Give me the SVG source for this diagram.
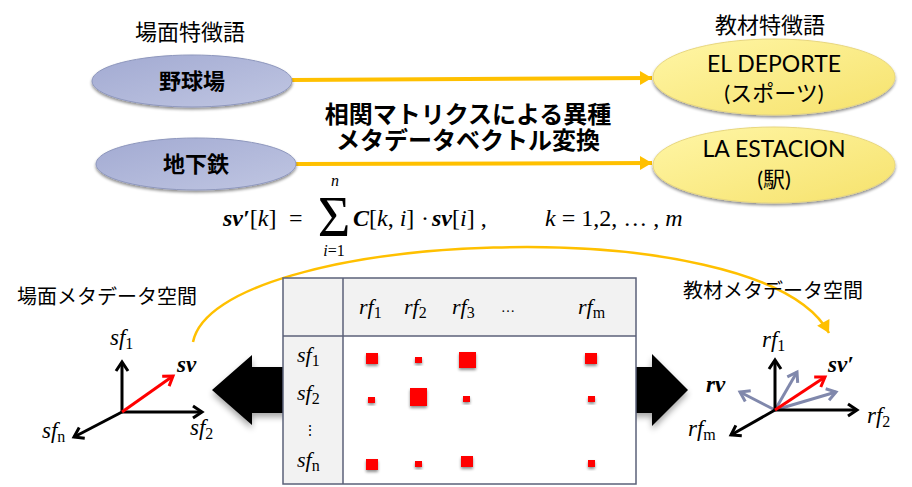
<svg xmlns="http://www.w3.org/2000/svg" width="912" height="487" viewBox="0 0 912 487">
<style>
.jp{font-family:"Noto Sans CJK JP","Noto Sans",sans-serif;fill:#000}
.lat{font-family:"Lato","Noto Sans CJK JP",sans-serif;fill:#000}
.m{font-family:"Liberation Serif","DejaVu Serif",serif;font-style:italic;fill:#000}
.up{font-style:normal}
.b{font-weight:bold}
.ax{stroke:#000;stroke-width:3;fill:none}
.sq{fill:#ff0000;filter:url(#sh)}
.conn{stroke:#ffc000;stroke-width:4;fill:none}
</style>
<defs>
<linearGradient id="gBlue" x1="0" y1="0" x2="1" y2="1">
<stop offset="0" stop-color="#a2aad2"/><stop offset="1" stop-color="#c0c6e2"/>
</linearGradient>
<linearGradient id="gYel" x1="0" y1="0" x2="1" y2="1">
<stop offset="0" stop-color="#fff6a6"/><stop offset="1" stop-color="#f6e26c"/>
</linearGradient>
<filter id="sh" x="-30%" y="-30%" width="160%" height="180%">
<feGaussianBlur in="SourceAlpha" stdDeviation="1.5"/><feOffset dx="0" dy="2" result="o"/>
<feComponentTransfer><feFuncA type="linear" slope="0.45"/></feComponentTransfer>
<feMerge><feMergeNode/><feMergeNode in="SourceGraphic"/></feMerge>
</filter>
<filter id="sh2" x="-20%" y="-20%" width="140%" height="150%">
<feGaussianBlur in="SourceAlpha" stdDeviation="3"/><feOffset dx="0" dy="4" result="o"/>
<feComponentTransfer><feFuncA type="linear" slope="0.35"/></feComponentTransfer>
<feMerge><feMergeNode/><feMergeNode in="SourceGraphic"/></feMerge>
</filter>
<marker id="hOr" markerUnits="userSpaceOnUse" markerWidth="16" markerHeight="16" viewBox="-13 -8 16 16" refX="0" refY="0" orient="auto">
<path d="M-12,-7 L0,0 L-12,7 Z" fill="#ffc000"/>
</marker>
<marker id="hK" markerUnits="userSpaceOnUse" markerWidth="16" markerHeight="16" viewBox="-12 -8 16 16" refX="0" refY="0" orient="auto">
<path d="M-9,-6 L0,0 L-9,6" fill="none" stroke="#000" stroke-width="3"/>
</marker>
<marker id="hR" markerUnits="userSpaceOnUse" markerWidth="16" markerHeight="16" viewBox="-12 -8 16 16" refX="0" refY="0" orient="auto">
<path d="M-9,-6 L0,0 L-9,6" fill="none" stroke="#ff0000" stroke-width="3"/>
</marker>
<marker id="hG" markerUnits="userSpaceOnUse" markerWidth="16" markerHeight="16" viewBox="-12 -8 16 16" refX="0" refY="0" orient="auto">
<path d="M-9,-6 L0,0 L-9,6" fill="none" stroke="#8088ac" stroke-width="3"/>
</marker>
</defs>

<rect width="912" height="487" fill="#fff"/>

<!-- labels -->
<text class="jp" x="190" y="40" font-size="22" text-anchor="middle">場面特徴語</text>
<text class="jp" x="770" y="33" font-size="22" text-anchor="middle">教材特徴語</text>

<!-- connectors -->
<g id="connectors">
<line class="conn" x1="292" y1="80" x2="652" y2="78" marker-end="url(#hOr)"/>
<line class="conn" x1="296" y1="164" x2="652" y2="163" marker-end="url(#hOr)"/>
<path d="M193,342 C215,230 760,205 829,333" stroke="#ffc000" stroke-width="2.5" fill="none" marker-end="url(#hOr)"/>
</g>

<g id="node-yakyujo">
<ellipse cx="192" cy="81" rx="100" ry="26" fill="url(#gBlue)" stroke="#8e97bd" stroke-width="1" filter="url(#sh)"/>
<text class="jp b" x="192" y="89" font-size="22" text-anchor="middle">野球場</text>
</g>
<g id="node-chikatetsu">
<ellipse cx="196" cy="164" rx="100" ry="26" fill="url(#gBlue)" stroke="#8e97bd" stroke-width="1" filter="url(#sh)"/>
<text class="jp b" x="196" y="172" font-size="22" text-anchor="middle">地下鉄</text>
</g>
<g id="node-deporte">
<ellipse cx="774" cy="77" rx="121" ry="38" fill="url(#gYel)" stroke="#e8d77e" stroke-width="1" filter="url(#sh)"/>
<text class="lat" x="774" y="72" font-size="23" text-anchor="middle">EL DEPORTE</text>
<text class="lat" x="774" y="101" font-size="22" text-anchor="middle">(スポーツ)</text>
</g>
<g id="node-estacion">
<ellipse cx="774" cy="165" rx="121" ry="38" fill="url(#gYel)" stroke="#e8d77e" stroke-width="1" filter="url(#sh)"/>
<text class="lat" x="774" y="157" font-size="23" text-anchor="middle">LA ESTACION</text>
<text class="lat" x="774" y="187" font-size="22" text-anchor="middle">(駅)</text>
</g>

<g id="title">
<text class="jp b" x="468" y="123" font-size="24" text-anchor="middle">相関マトリクスによる異種</text>
<text class="jp b" x="468" y="149" font-size="24" text-anchor="middle">メタデータベクトル変換</text>
</g>

<g id="formula" font-size="24">
<text class="m" x="223" y="226"><tspan class="b">sv′</tspan><tspan class="up">[</tspan>k<tspan class="up">]</tspan></text>
<text class="m up" x="289" y="226">=</text>
<text class="m up" x="334" y="236" font-size="56" text-anchor="middle">Σ</text>
<text class="m" x="335" y="186" font-size="16" text-anchor="middle">n</text>
<text class="m" x="334" y="256" font-size="16" text-anchor="middle">i<tspan class="up">=1</tspan></text>
<text class="m" x="353" y="226"><tspan class="b">C</tspan><tspan class="up">[</tspan>k<tspan class="up">, </tspan>i<tspan class="up">]</tspan></text>
<text class="m up" x="421" y="226">·</text>
<text class="m" x="432" y="226"><tspan class="b">sv</tspan><tspan class="up">[</tspan>i<tspan class="up">] ,</tspan></text>
<text class="m" x="545" y="226">k <tspan class="up">= 1,2, … , </tspan>m</text>
</g>

<!-- big black arrows (behind table) -->
<g id="big-arrows" filter="url(#sh2)">
<path d="M212,390 L252,355 L252,367 L300,367 L300,413 L252,413 L252,425 Z" fill="#000"/>
<path d="M688,390 L652,354 L652,367 L620,367 L620,413 L652,413 L652,426 Z" fill="#000"/>
</g>

<g id="table">
<rect x="283" y="278" width="353" height="206" fill="#fff"/>
<rect x="283" y="278" width="353" height="58" fill="#f2f2f2"/>
<rect x="283" y="336" width="60" height="148" fill="#f2f2f2"/>
<rect x="283" y="278" width="353" height="206" fill="none" stroke="#5b6179" stroke-width="1.5"/>
<line x1="283" y1="336" x2="636" y2="336" stroke="#5b6179" stroke-width="1.5"/>
<line x1="343" y1="278" x2="343" y2="484" stroke="#5b6179" stroke-width="1.5"/>
<g font-size="22">
<text class="m" x="359" y="314">rf<tspan class="up" font-size="16" dy="4">1</tspan></text>
<text class="m" x="404" y="314">rf<tspan class="up" font-size="16" dy="4">2</tspan></text>
<text class="m" x="452" y="314">rf<tspan class="up" font-size="16" dy="4">3</tspan></text>
<text class="m up" x="508" y="312" font-size="14" text-anchor="middle">…</text>
<text class="m" x="578" y="314">rf<tspan class="up" font-size="16" dy="4">m</tspan></text>
<text class="m" x="297" y="362">sf<tspan class="up" font-size="16" dy="4">1</tspan></text>
<text class="m" x="297" y="400">sf<tspan class="up" font-size="16" dy="4">2</tspan></text>
<text class="m up" x="310" y="435" font-size="14" text-anchor="middle">⋮</text>
<text class="m" x="297" y="467">sf<tspan class="up" font-size="16" dy="4">n</tspan></text>
</g>
<rect class="sq" x="366" y="353" width="12" height="11"/>
<rect class="sq" x="415" y="357" width="7" height="6"/>
<rect class="sq" x="459" y="352" width="17" height="16"/>
<rect class="sq" x="585" y="353" width="12" height="11"/>
<rect class="sq" x="368" y="397" width="7" height="6"/>
<rect class="sq" x="410" y="388" width="17" height="18"/>
<rect class="sq" x="463" y="396" width="7" height="6"/>
<rect class="sq" x="588" y="396" width="7" height="6"/>
<rect class="sq" x="366" y="459" width="12" height="11"/>
<rect class="sq" x="415" y="461" width="7" height="6"/>
<rect class="sq" x="461" y="456" width="12" height="11"/>
<rect class="sq" x="588" y="460" width="7" height="7"/>
</g>

<g id="scene-space">
<text class="jp" x="17" y="304" font-size="20">場面メタデータ空間</text>
<line class="ax" x1="122" y1="412" x2="122" y2="362" marker-end="url(#hK)"/>
<line class="ax" x1="122" y1="412" x2="202" y2="412" marker-end="url(#hK)"/>
<line class="ax" x1="122" y1="412" x2="74" y2="437" marker-end="url(#hK)"/>
<line x1="122" y1="412" x2="173" y2="376" stroke="#ff0000" stroke-width="3" marker-end="url(#hR)"/>
<g font-size="23">
<text class="m" x="110" y="345">sf<tspan class="up" font-size="16" dy="4">1</tspan></text>
<text class="m b" x="177" y="372">sv</text>
<text class="m" x="190" y="435">sf<tspan class="up" font-size="16" dy="4">2</tspan></text>
<text class="m" x="42" y="438">sf<tspan class="up" font-size="16" dy="4">n</tspan></text>
</g>
</g>

<g id="material-space">
<text class="jp" x="683" y="298" font-size="20">教材メタデータ空間</text>
<line x1="775" y1="410" x2="740" y2="392" stroke="#8088ac" stroke-width="3" marker-end="url(#hG)"/>
<line x1="775" y1="410" x2="797" y2="372" stroke="#8088ac" stroke-width="3" marker-end="url(#hG)"/>
<line x1="775" y1="410" x2="836" y2="392" stroke="#8088ac" stroke-width="3" marker-end="url(#hG)"/>
<line class="ax" x1="775" y1="410" x2="775" y2="360" marker-end="url(#hK)"/>
<line class="ax" x1="775" y1="410" x2="857" y2="410" marker-end="url(#hK)"/>
<line class="ax" x1="775" y1="410" x2="731" y2="435" marker-end="url(#hK)"/>
<line x1="775" y1="410" x2="825" y2="377" stroke="#ff0000" stroke-width="3" marker-end="url(#hR)"/>
<g font-size="23">
<text class="m" x="762" y="347">rf<tspan class="up" font-size="16" dy="4">1</tspan></text>
<text class="m b" x="828" y="372">sv′</text>
<text class="m b" x="706" y="392">rv</text>
<text class="m" x="867" y="423">rf<tspan class="up" font-size="16" dy="4">2</tspan></text>
<text class="m" x="688" y="436">rf<tspan class="up" font-size="16" dy="4">m</tspan></text>
</g>
</g>
</svg>
